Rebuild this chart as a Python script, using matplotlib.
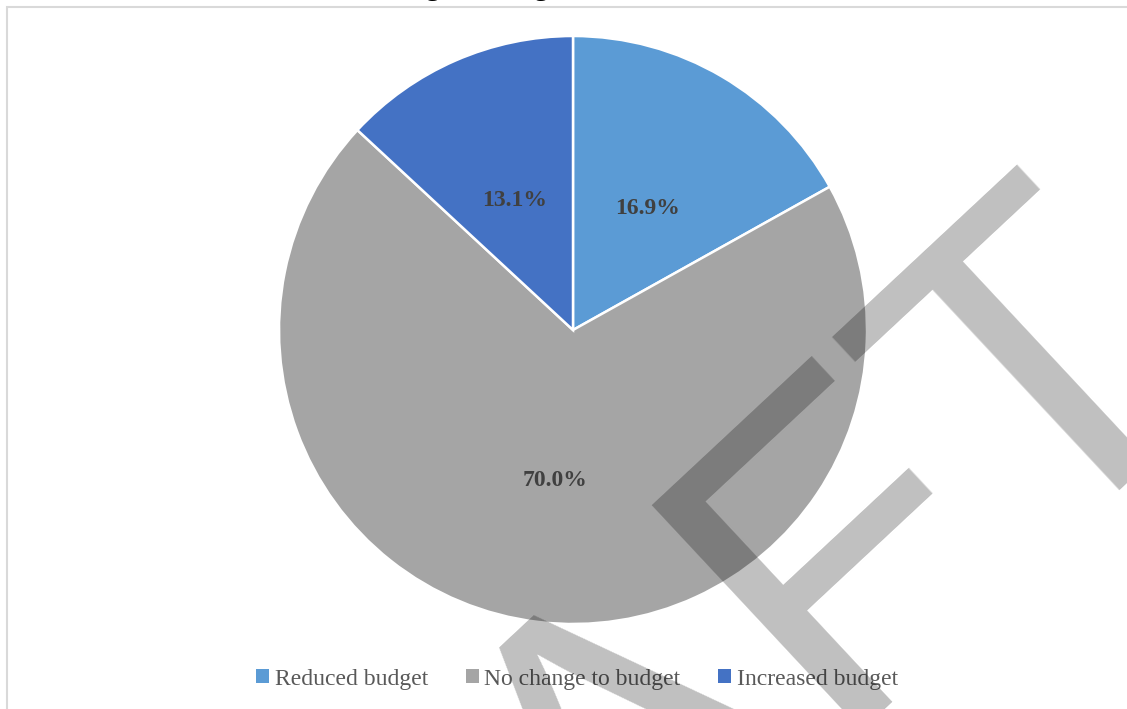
import matplotlib
matplotlib.use("Agg")
import matplotlib.pyplot as plt
import matplotlib.transforms as mtransforms
from matplotlib.patches import Rectangle, Patch

# budget change shares (%)
categories = ["Reduced budget", "No change to budget", "Increased budget"]
shares = [16.9, 70.0, 13.1]
colors = ["#5B9BD5", "#A5A5A5", "#4472C4"]

W, H = 1127, 709
fig = plt.figure(figsize=(W / 100, H / 100), dpi=100)

# light grey frame of the chart area
fig.patches.append(Rectangle((7 / W, -0.2), 1.2, 1.2 - 7 / H, transform=fig.transFigure,
                             fill=False, edgecolor="#D9D9D9", linewidth=1.5))

# title sits above the frame and gets cut off
fig.text(364 / W, 1.0075, "Change in budget", fontsize=21, family="Liberation Serif",
         ha="left", va="baseline", color="black")

cx, cy, r = 573, 330, 294
ax = fig.add_axes([(cx - r) / W, 1 - (cy + r) / H, 2 * r / W, 2 * r / H])
wedges, texts, autotexts = ax.pie(
    shares, colors=colors, startangle=90, counterclock=False,
    autopct="%.1f%%", pctdistance=0.5,
    wedgeprops=dict(edgecolor="white", linewidth=1.8),
    textprops=dict(fontsize=17, fontweight="bold", family="Liberation Serif", color="#404040"))
# nudge the percentage labels a few pixels down
shift = mtransforms.offset_copy(ax.transData, fig=fig, x=0, y=-5, units="dots")
for t in autotexts:
    t.set_transform(shift)
ax.set_xlim(-1, 1)
ax.set_ylim(-1, 1)
ax.axis("off")

handles = [Patch(facecolor=c, edgecolor="none") for c in colors]
leg = fig.legend(handles, categories, loc="center", bbox_to_anchor=(577 / W, 1 - 679 / H),
                 ncol=3, frameon=False, handlelength=0.55, handleheight=0.55,
                 handletextpad=0.25, columnspacing=1.6,
                 prop=dict(family="Liberation Serif", size=17))
for t in leg.get_texts():
    t.set_color("#595959")

# DRAFT watermark
fig.text(135 / W, 1 - 1374 / H, "DRAFT", fontsize=322, family="Liberation Sans",
         color="black", alpha=0.25, rotation=43, rotation_mode="anchor",
         ha="left", va="baseline", zorder=10)

fig.savefig("out.png", dpi=100)
